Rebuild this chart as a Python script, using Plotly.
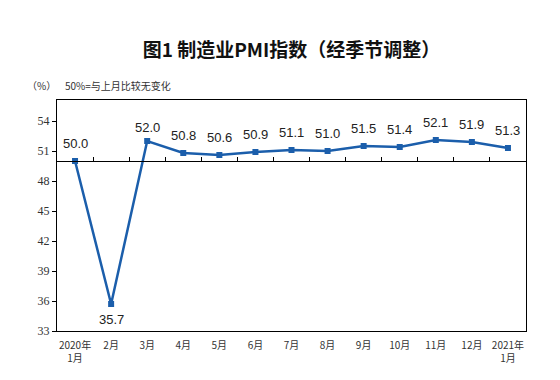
import plotly.graph_objects as go

months = ["2020年<br>1月", "2月", "3月", "4月", "5月", "6月", "7月", "8月",
          "9月", "10月", "11月", "12月", "2021年<br>1月"]
pmi = [50.0, 35.7, 52.0, 50.8, 50.6, 50.9, 51.1, 51.0, 51.5, 51.4, 52.1, 51.9, 51.3]
y_ticks = [33, 36, 39, 42, 45, 48, 51, 54]
baseline = 50

Y_MIN, Y_MAX = 33, 56.1
X_RANGE = [-0.5, len(months) - 0.5]
BLUE = "#1b5eab"
CJK = "Noto Sans CJK SC"

fig = go.Figure()
fig.add_trace(go.Scatter(
    x=months, y=pmi, mode="lines+markers",
    line=dict(color=BLUE, width=2.5),
    marker=dict(symbol="square", size=6, color=BLUE),
    hoverinfo="skip", showlegend=False,
))
# invisible trace for the boundary-tick axis at y=50
fig.add_trace(go.Scatter(
    x=list(range(len(months))), y=pmi, xaxis="x2", mode="lines",
    line=dict(color="rgba(0,0,0,0)"), hoverinfo="skip", showlegend=False,
))

imin = pmi.index(min(pmi))
for i, (m, v) in enumerate(zip(months, pmi)):
    if i == imin:
        shift = -15
    elif i == 2:
        shift = 14
    else:
        shift = 18
    fig.add_annotation(x=m, y=v, text=f"{v:.1f}", showarrow=False,
                       yshift=shift, yanchor="middle",
                       font=dict(family="Liberation Sans, Arial", size=13, color="#222"))

pos50 = (baseline - Y_MIN) / (Y_MAX - Y_MIN)

fig.update_layout(
    width=560, height=380,
    margin=dict(l=57, r=34, t=100, b=49, autoexpand=False),
    paper_bgcolor="white", plot_bgcolor="white",
    title=dict(text="图1 制造业PMI指数（经季节调整）", x=0.5, xanchor="center",
               xref="paper", y=1 - 50 / 380, yref="container", yanchor="middle",
               font=dict(family=CJK, size=19, color="#111", weight="bold")),
    xaxis=dict(type="category", range=X_RANGE, showline=True, linecolor="black",
               linewidth=1, mirror=True, ticks="", showgrid=False, zeroline=False,
               automargin=False, ticklabelstandoff=5,
               tickfont=dict(family=CJK, size=10, color="#333")),
    xaxis2=dict(overlaying="x", anchor="free", position=pos50, side="top",
                range=X_RANGE, showline=True, linecolor="black",
                linewidth=1, tickvals=[i + 0.5 for i in range(len(months) - 1)],
                ticks="outside", ticklen=4, tickcolor="black", showticklabels=False,
                showgrid=False, zeroline=False, automargin=False),
    yaxis=dict(range=[Y_MIN, Y_MAX], tickvals=y_ticks, showline=True,
               linecolor="black", linewidth=1, mirror=True, ticks="outside",
               ticklen=4, tickcolor="black", showgrid=False, zeroline=False,
               automargin=False,
               tickfont=dict(family="Liberation Serif", size=12, color="#333")),
)
fig.add_annotation(xref="paper", yref="paper", x=(25 - 57) / 469, y=1 + 15 / 231,
                   xanchor="left", yanchor="middle", showarrow=False,
                   text="（%）", font=dict(family=CJK, size=10, color="#333"))
fig.add_annotation(xref="paper", yref="paper", x=(63 - 57) / 469, y=1 + 15 / 231,
                   xanchor="left", yanchor="middle", showarrow=False,
                   text="50%=与上月比较无变化", font=dict(family=CJK, size=10, color="#333"))

fig.write_html("out.html", config={"displayModeBar": False},
               post_script="document.body.style.margin='0';")
